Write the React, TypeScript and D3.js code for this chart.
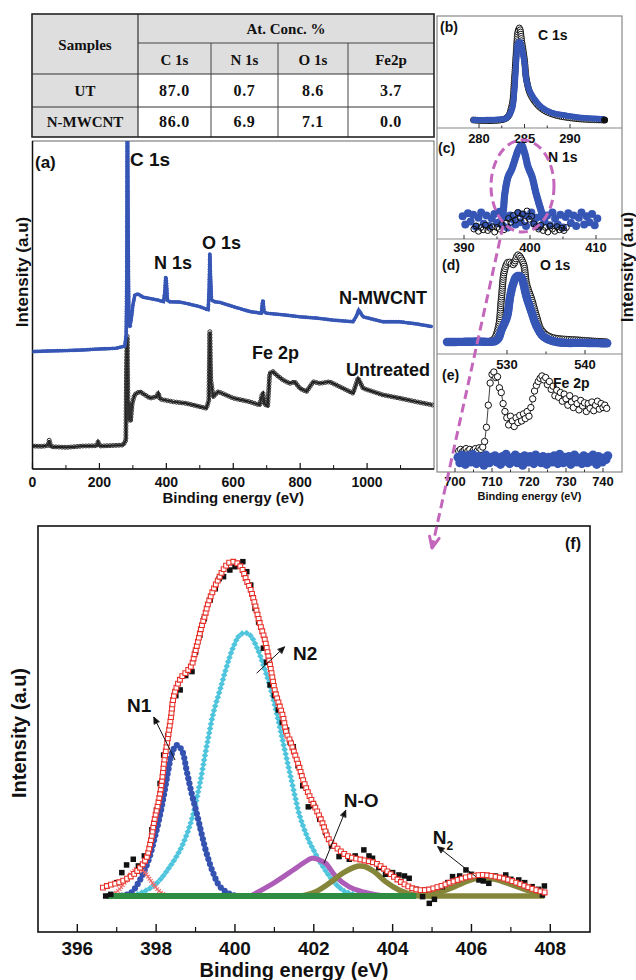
import React, { useEffect, useRef } from "react";
import * as d3 from "d3";

type P = [number, number];

// ---------------- table ----------------
const tableColumns = ["C 1s", "N 1s", "O 1s", "Fe2p"];
const tableSamples = ["UT", "N-MWCNT"];
const tableUT = ["87.0", "0.7", "8.6", "3.7"];
const tableNMWCNT = ["86.0", "6.9", "7.1", "0.0"];

// ---------------- (a) survey ----------------
const surveyTicks = [0, 200, 400, 600, 800, 1000];
const surveyMinorTicks = [100, 300, 500, 700, 900, 1100];
const surveyNMWCNT: P[] = [
  [0, 35.8], [50, 36.0], [100, 36.1], [150, 36.3], [200, 36.6], [250, 36.8], [276, 37.5], [280, 41],
  [282, 60], [283.5, 130], [285, 90], [286, 69.8], [288, 46], [291, 43.3], [296, 46.4], [300, 50],
  [306, 53], [315, 53.4], [330, 52.4], [351, 52], [375, 51.5], [392, 51], [396, 54.6], [398, 58.6],
  [400, 57.6], [403, 51.5], [410, 51], [440, 50.9], [460, 50.5], [500, 49.5], [525, 48.5], [528, 54.6],
  [530, 65.5], [532, 59.1], [535, 51.5], [545, 51], [560, 50.8], [600, 49.5], [650, 48], [684, 47.5],
  [687, 50.6], [689, 51.5], [692, 47.9], [700, 47.5], [750, 47], [800, 46.4], [850, 46], [898, 45.4],
  [958, 44.9], [968, 46.6], [975, 48.5], [988, 46.4], [1047, 44.9], [1097, 44.9], [1150, 44.2], [1196, 43.4],
];
const surveyUntreated: P[] = [
  [0, 7.0], [30, 6.9], [47, 7.2], [50, 8.8], [55, 6.8], [102, 6.6], [150, 7.0], [193, 7.1], [196, 8.3],
  [201, 7.0], [271, 7.3], [279, 8.8], [281, 32.3], [283, 40.5], [285, 23.2], [287, 14.9], [290, 20],
  [293, 14.5], [298, 20], [305, 22.6], [311, 23.1], [321, 23.6], [351, 21.6], [370, 22], [376, 23.2],
  [381, 21.3], [420, 20.5], [460, 20], [500, 19], [520, 18.5], [527, 21], [530, 41.9], [533, 27.1],
  [540, 22], [555, 23.6], [600, 21.6], [649, 20.5], [679, 19.5], [686, 22.6], [689, 23.1], [693, 19.8],
  [703, 19.2], [709, 29.2], [719, 29.7], [729, 28.7], [749, 27.1], [769, 26.1], [784, 26.6], [799, 24.6],
  [819, 23.6], [839, 26.6], [859, 26.1], [888, 26.6], [908, 25.6], [938, 24.1], [958, 23.1], [973, 27.7],
  [988, 24.6], [1047, 22.6], [1097, 21.6], [1147, 20.5], [1196, 19.5],
];

// ---------------- (b) C 1s ----------------
const c1sTicks = [280, 285, 290];
const c1sNMWCNT: P[] = [
  [279.4, 0], [281, 0.002], [282, 0.005], [283, 0.02], [283.6, 0.11], [283.9, 0.33], [284.1, 0.65],
  [284.3, 0.84], [284.5, 0.85], [284.7, 0.78], [285, 0.62], [285.15, 0.47], [285.4, 0.36], [285.7, 0.29],
  [286.3, 0.2], [286.8, 0.145], [287.5, 0.1], [288.2, 0.073], [289.5, 0.05], [290.8, 0.03], [292, 0.02], [293.7, 0.01],
];
const c1sUntreated: P[] = [
  [279.4, 0], [283, 0.02], [283.6, 0.15], [283.9, 0.45], [284.1, 0.75], [284.3, 0.97], [284.45, 1.0],
  [284.7, 0.85], [285, 0.65], [285.2, 0.45], [285.7, 0.27], [286.8, 0.13], [288.2, 0.06], [290.8, 0.015], [293.8, 0.0],
];

// ---------------- (c) N 1s ----------------
const n1sTicks = [390, 400, 410];
const n1sNMWCNTPeak: P[] = [
  [395.6, 0.0], [395.9, 0.09], [396.2, 0.36], [396.7, 0.58], [397.2, 0.67], [397.7, 0.8], [398.2, 0.93],
  [398.7, 1.0], [399.2, 0.89], [399.7, 0.71], [400.3, 0.58], [400.9, 0.36], [401.8, 0.09], [402.1, 0.0],
];
const n1sNMWCNTStart = 389.8;
const n1sNMWCNTStep = 0.4;
const n1sNMWCNTBase = [
  0.05, -0.06, 0.09, -0.02, 0.07, -0.09, 0.03, 0.1, -0.05, 0.06,
  -0.08, 0.02, 0.08, -0.04, 0.11, -0.07, 0.04, -0.1, 0.06, 0.01,
  -0.06, 0.09, -0.03, 0.07, -0.08, 0.05, 0.1, -0.05, 0.03, -0.09,
  0.08, -0.02, 0.06, -0.07, 0.1, 0.02, -0.06, 0.07, -0.1, 0.04,
  0.09, -0.04, 0.06, -0.08, 0.03, 0.1, -0.06, 0.05, -0.03, 0.08,
  -0.07, 0.02,
];
const n1sUntreatedStart = 391.5;
const n1sUntreatedStep = 0.35;
const n1sUntreated = [
  -0.12, -0.08, -0.15, -0.1, -0.13, -0.07, -0.14, -0.11, -0.09, -0.16,
  -0.1, -0.12, -0.06, -0.13, -0.04, 0.02, -0.03, 0.06, 0.0, 0.1,
  0.03, 0.08, -0.02, 0.12, 0.01, 0.05, -0.05, -0.09, -0.12, -0.07,
  -0.14, -0.1, -0.16, -0.08, -0.12, -0.15, -0.09, -0.13, -0.11, -0.14, -0.1,
];

// ---------------- (d) O 1s ----------------
const o1sTicks = [530, 540];
const o1sNMWCNT: P[] = [
  [522.3, 0], [526, 0.005], [528.7, 0.02], [529.3, 0.14], [530.0, 0.29], [530.4, 0.52], [530.8, 0.67],
  [531.2, 0.75], [531.6, 0.76], [531.9, 0.73], [532.5, 0.52], [533.2, 0.33], [533.8, 0.18], [534.7, 0.06],
  [536.4, 0.0], [540, -0.01], [543.0, -0.015],
];
const o1sUntreated: P[] = [
  [527.5, 0], [528.3, 0.03], [528.9, 0.17], [529.3, 0.52], [529.7, 0.83], [530.2, 0.92], [530.8, 0.89],
  [531.4, 1.0], [532.1, 0.9], [532.5, 0.67], [533.2, 0.48], [533.8, 0.29], [534.4, 0.14], [535.5, 0.06],
  [539.4, 0.02], [542.8, 0.0],
];

// ---------------- (e) Fe 2p ----------------
const fe2pTicks = [700, 710, 720, 730, 740];
const fe2pUntreatedStart = 701;
const fe2pUntreatedStep = 0.5;
const fe2pUntreated = [
  0.0, 0.02, -0.01, 0.01, 0.03, 0.0, 0.02, -0.02, 0.01, 0.03,
  0.0, 0.04, 0.02, 0.05, 0.12, 0.3, 0.58, 0.86, 0.97, 1.0,
  0.93, 0.94, 0.8, 0.74, 0.6, 0.5, 0.42, 0.33, 0.44, 0.38,
  0.31, 0.42, 0.36, 0.45, 0.38, 0.47, 0.41, 0.5, 0.44, 0.55,
  0.66, 0.76, 0.83, 0.88, 0.92, 0.95, 0.9, 0.93, 0.84, 0.88,
  0.78, 0.82, 0.7, 0.77, 0.68, 0.74, 0.63, 0.72, 0.66, 0.58,
  0.7, 0.62, 0.55, 0.66, 0.6, 0.52, 0.64, 0.57, 0.61, 0.5,
  0.6, 0.54, 0.62, 0.51, 0.58, 0.63, 0.53, 0.6, 0.55, 0.58, 0.54,
];
const fe2pNMWCNTStart = 700.8;
const fe2pNMWCNTStep = 0.5;
const fe2pNMWCNT = [
  -0.08, -0.15, -0.05, -0.12, -0.17, -0.06, -0.11, -0.14, -0.04, -0.1,
  -0.16, -0.07, -0.13, -0.09, -0.18, -0.05, -0.12, -0.15, -0.08, -0.11,
  -0.06, -0.14, -0.1, -0.17, -0.07, -0.13, -0.04, -0.12, -0.16, -0.09,
  -0.11, -0.05, -0.15, -0.08, -0.13, -0.18, -0.06, -0.1, -0.14, -0.07,
  -0.12, -0.16, -0.05, -0.11, -0.09, -0.15, -0.07, -0.13, -0.17, -0.08,
  -0.1, -0.14, -0.06, -0.12, -0.16, -0.04, -0.11, -0.15, -0.08, -0.13,
  -0.07, -0.17, -0.1, -0.05, -0.14, -0.09, -0.12, -0.16, -0.06, -0.11,
  -0.15, -0.08, -0.13, -0.05, -0.1, -0.17, -0.07, -0.12, -0.14, -0.09,
  -0.11, -0.06,
];

// ---------------- (f) N 1s fit ----------------
const fitTicks = [396, 398, 400, 402, 404, 406, 408];
const fitMinorTicks = [397, 399, 401, 403, 405, 407];
const fitRaw: P[] = [
  [396.72, 0.0], [396.85, 0.005], [397.0, 0.04], [397.13, 0.07], [397.25, 0.093], [397.42, 0.11],
  [397.55, 0.09], [397.7, 0.12], [397.89, 0.198], [398.01, 0.257], [398.1, 0.337], [398.19, 0.422],
  [398.3, 0.48], [398.4, 0.562], [398.5, 0.6], [398.61, 0.617], [398.75, 0.66], [398.91, 0.672],
  [399.0, 0.73], [399.11, 0.781], [399.22, 0.83], [399.37, 0.886], [399.5, 0.92], [399.6, 0.95],
  [399.71, 0.956], [399.87, 0.976], [400.0, 0.986], [400.1, 0.99], [400.2, 1.001], [400.3, 0.971],
  [400.4, 0.931], [400.51, 0.861], [400.6, 0.82], [400.72, 0.742], [400.8, 0.7], [400.89, 0.632],
  [401.0, 0.6], [401.1, 0.557], [401.2, 0.52], [401.31, 0.497], [401.4, 0.46], [401.48, 0.447],
  [401.6, 0.39], [401.72, 0.33], [401.86, 0.267], [402.0, 0.27], [402.15, 0.23], [402.3, 0.19],
  [402.45, 0.15], [402.64, 0.118], [402.77, 0.125], [402.9, 0.11], [403.05, 0.12], [403.27, 0.138],
  [403.4, 0.12], [403.49, 0.113], [403.65, 0.085], [403.82, 0.065], [404.0, 0.07], [404.16, 0.063],
  [404.3, 0.06], [404.42, 0.053], [404.6, 0.02], [404.76, -0.002], [404.93, -0.022], [405.06, -0.01],
  [405.26, 0.028], [405.4, 0.04], [405.52, 0.058], [405.7, 0.06], [405.86, 0.078], [406.0, 0.065],
  [406.19, 0.048], [406.3, 0.045], [406.44, 0.038], [406.6, 0.06], [406.87, 0.063], [407.0, 0.05],
  [407.2, 0.048], [407.35, 0.04], [407.54, 0.028], [407.7, 0.02], [407.8, 0.003], [407.85, 0.03],
];
const fitEnvelope: P[] = [
  [396.65, 0.025], [396.82, 0.033], [396.99, 0.038], [397.2, 0.048], [397.41, 0.063], [397.58, 0.083],
  [397.75, 0.113], [397.87, 0.168], [397.96, 0.228], [398.07, 0.287], [398.14, 0.337], [398.21, 0.407],
  [398.29, 0.467], [398.38, 0.538], [398.43, 0.587], [398.52, 0.626], [398.65, 0.656], [398.77, 0.671],
  [398.9, 0.691], [398.98, 0.726], [399.07, 0.766], [399.15, 0.806], [399.24, 0.841], [399.32, 0.876],
  [399.45, 0.916], [399.57, 0.946], [399.7, 0.976], [399.83, 0.996], [399.93, 1.001], [400.06, 0.996],
  [400.17, 0.981], [400.29, 0.946], [400.4, 0.916], [400.5, 0.876], [400.63, 0.816], [400.76, 0.766],
  [400.85, 0.716], [400.93, 0.666], [401.01, 0.616], [401.14, 0.566], [401.22, 0.536], [401.31, 0.486],
  [401.39, 0.467], [401.48, 0.437], [401.6, 0.397], [401.73, 0.347], [401.9, 0.297], [402.05, 0.262],
  [402.22, 0.218], [402.39, 0.168], [402.64, 0.138], [402.89, 0.118], [403.23, 0.108], [403.57, 0.098],
  [403.82, 0.078], [404.08, 0.053], [404.33, 0.033], [404.58, 0.02], [404.84, 0.018], [405.18, 0.028],
  [405.52, 0.043], [405.94, 0.058], [406.28, 0.063], [406.61, 0.058], [406.95, 0.048], [407.29, 0.033],
  [407.63, 0.018], [407.88, 0.01],
];
const fitShoulder: P[] = [
  [396.8, 0.0], [397.0, 0.012], [397.2, 0.04], [397.4, 0.072], [397.55, 0.083], [397.7, 0.072],
  [397.9, 0.04], [398.1, 0.012], [398.3, 0.0],
];
const fitN1: P[] = [
  [397.0, 0.0], [397.34, 0.008], [397.59, 0.048], [397.81, 0.108], [397.95, 0.168], [398.09, 0.237],
  [398.19, 0.297], [398.31, 0.377], [398.4, 0.427], [398.52, 0.452], [398.65, 0.437], [398.78, 0.372],
  [398.9, 0.307], [399.03, 0.248], [399.15, 0.188], [399.28, 0.128], [399.45, 0.068], [399.62, 0.028],
  [399.87, 0.006], [400.1, 0.0],
];
const fitN2: P[] = [
  [397.3, 0.0], [397.59, 0.008], [398.01, 0.038], [398.35, 0.088], [398.65, 0.148], [398.9, 0.228],
  [399.11, 0.337], [399.28, 0.447], [399.45, 0.547], [399.62, 0.617], [399.79, 0.687], [399.96, 0.746],
  [400.12, 0.781], [400.25, 0.788], [400.38, 0.781], [400.55, 0.746], [400.72, 0.692], [400.89, 0.627],
  [401.06, 0.547], [401.22, 0.46], [401.38, 0.375], [401.52, 0.3], [401.65, 0.237], [401.86, 0.17],
  [402.05, 0.125], [402.22, 0.09], [402.47, 0.048], [402.73, 0.018], [402.98, 0.006], [403.3, 0.0],
];
const fitNO: P[] = [
  [400.4, 0.0], [400.97, 0.038], [401.48, 0.078], [401.75, 0.1], [401.95, 0.113], [402.1, 0.11],
  [402.3, 0.098], [402.56, 0.058], [402.89, 0.028], [403.23, 0.013], [403.57, 0.004], [403.9, 0.0],
];
const fitN2Gas: P[] = [
  [401.7, 0.0], [402.05, 0.013], [402.39, 0.038], [402.73, 0.068], [403.0, 0.085], [403.15, 0.09],
  [403.3, 0.088], [403.53, 0.073], [403.82, 0.043], [404.16, 0.018], [404.5, 0.004], [404.8, 0.0],
  [405.4, 0.0], [406.0, 0.0], [407.0, 0.0], [407.85, 0.0],
];
const fitHighPeak: P[] = [
  [404.6, 0.0], [405.0, 0.006], [405.4, 0.02], [405.8, 0.04], [406.1, 0.052], [406.3, 0.055],
  [406.6, 0.05], [407.0, 0.035], [407.4, 0.018], [407.85, 0.006],
];
const fitBaseline: P[] = [[396.75, 0.0], [404.6, 0.0]];

// ---------------- drawing ----------------
const SANS = "'Liberation Sans', Arial, Helvetica, sans-serif";
const SERIF = "'Liberation Serif', 'Times New Roman', serif";
const BLUE = "#3656b6";
const MAGENTA = "#c466bc";

function draw(node: SVGSVGElement) {
  const svg: any = d3.select(node);
  svg.selectAll("*").remove();
  svg.append("rect").attr("width", 636).attr("height", 980).attr("fill", "#fff");
  const defs = svg.append("defs");
  const addClip = (id: string, x0: number, y0: number, x1: number, y1: number) =>
    defs.append("clipPath").attr("id", id).append("rect")
      .attr("x", x0).attr("y", y0).attr("width", x1 - x0).attr("height", y1 - y0);

  const text = (g: any, x: number, y: number, s: string, size: number, anchor = "start", family = SANS, weight = "bold") =>
    g.append("text").attr("x", x).attr("y", y).attr("font-family", family).attr("font-size", size)
      .attr("font-weight", weight).attr("text-anchor", anchor).attr("fill", "#111").text(s);

  const line = (g: any, x1: number, y1: number, x2: number, y2: number, stroke: string, sw: number) =>
    g.append("line").attr("x1", x1).attr("y1", y1).attr("x2", x2).attr("y2", y2)
      .attr("stroke", stroke).attr("stroke-width", sw);

  const along = (g: any, d: string, step: number): P[] => {
    const p = g.append("path").attr("d", d).attr("fill", "none").attr("stroke", "none");
    const n = p.node() as SVGPathElement;
    const L = n.getTotalLength();
    const out: P[] = [];
    for (let s = 0; s <= L + 0.01; s += step) {
      const q = n.getPointAtLength(Math.min(s, L));
      out.push([q.x, q.y]);
    }
    p.remove();
    return out;
  };

  const marks = (g: any, pts: P[], d: string, fill: string, stroke: string, sw: number, rot = 0) =>
    g.append("g").selectAll("path").data(pts).join("path").attr("d", d)
      .attr("transform", (p: P) => `translate(${p[0]},${p[1]})${rot ? ` rotate(${rot})` : ""}`)
      .attr("fill", fill).attr("stroke", stroke).attr("stroke-width", sw);

  const circle = (r: number) => d3.symbol().type(d3.symbolCircle).size(Math.PI * r * r)() as string;
  const square = (s: number) => d3.symbol().type(d3.symbolSquare).size(s * s)() as string;
  const cross = (s: number) => `M${-s},${-s}L${s},${s}M${-s},${s}L${s},${-s}`;

  const arrow = (g: any, x1: number, y1: number, x2: number, y2: number, color: string, sw: number, head: number, filled: boolean, dash?: string) => {
    const l = line(g, x1, y1, x2, y2, color, sw);
    if (dash) l.attr("stroke-dasharray", dash);
    const a = Math.atan2(y2 - y1, x2 - x1);
    const h1: P = [x2 - head * Math.cos(a - 0.42), y2 - head * Math.sin(a - 0.42)];
    const h2: P = [x2 - head * Math.cos(a + 0.42), y2 - head * Math.sin(a + 0.42)];
    const dd = filled ? `M${h1}L${x2},${y2}L${h2}Z` : `M${h1}L${x2},${y2}L${h2}`;
    g.append("path").attr("d", dd).attr("fill", filled ? color : "none").attr("stroke", color)
      .attr("stroke-width", filled ? 0.8 : sw).attr("stroke-linecap", "round").attr("stroke-linejoin", "round");
  };

  // ================= TABLE =================
  const tg = svg.append("g");
  const colX = [32, 138, 211, 278, 348, 434];
  const rowY = [14, 43, 74, 107, 137];
  const GRAY = "#dedede";
  tg.append("rect").attr("x", colX[0]).attr("y", rowY[0]).attr("width", colX[5] - colX[0]).attr("height", rowY[4] - rowY[0]).attr("fill", "#fff");
  tg.append("rect").attr("x", colX[0]).attr("y", rowY[0]).attr("width", colX[1] - colX[0]).attr("height", rowY[4] - rowY[0]).attr("fill", GRAY);
  tg.append("rect").attr("x", colX[1]).attr("y", rowY[0]).attr("width", colX[5] - colX[1]).attr("height", rowY[2] - rowY[0]).attr("fill", GRAY);
  line(tg, colX[1], rowY[1], colX[5], rowY[1], "#444", 1);
  line(tg, colX[0], rowY[2], colX[5], rowY[2], "#333", 1.2);
  line(tg, colX[0], rowY[3], colX[5], rowY[3], "#333", 1.2);
  line(tg, colX[1], rowY[0], colX[1], rowY[4], "#333", 1.2);
  [2, 3, 4].forEach((i) => line(tg, colX[i], rowY[1], colX[i], rowY[4], "#444", 1));
  tg.append("rect").attr("x", colX[0]).attr("y", rowY[0]).attr("width", colX[5] - colX[0]).attr("height", rowY[4] - rowY[0])
    .attr("fill", "none").attr("stroke", "#222").attr("stroke-width", 1.6);
  text(tg, (colX[0] + colX[1]) / 2, 50, "Samples", 15, "middle", SERIF);
  text(tg, (colX[1] + colX[5]) / 2, 34, "At. Conc. %", 15, "middle", SERIF);
  tableColumns.forEach((c, i) => text(tg, (colX[i + 1] + colX[i + 2]) / 2, 65, c, 15, "middle", SERIF));
  const rowsY = [96, 127];
  tableSamples.forEach((s, r) => text(tg, (colX[0] + colX[1]) / 2, rowsY[r], s, 15, "middle", SERIF));
  [tableUT, tableNMWCNT].forEach((vals, r) =>
    vals.forEach((v, i) => text(tg, (colX[i + 1] + colX[i + 2]) / 2, rowsY[r], v, 16, "middle", SERIF).attr("letter-spacing", 0.7)));

  // ================= (a) SURVEY =================
  const xA = d3.scaleLinear().domain([0, 1200]).range([32.5, 434]);
  const yA = d3.scaleLinear().domain([0, 100]).range([469, 141]);
  addClip("clipA", 32.5, 141, 434, 469);
  const gA = svg.append("g");
  gA.append("rect").attr("x", 32.5).attr("y", 141).attr("width", 401.5).attr("height", 328)
    .attr("fill", "none").attr("stroke", "#666").attr("stroke-width", 1);
  line(gA, 32.5, 141, 32.5, 469, "#111", 1.5);
  line(gA, 32.5, 469, 434, 469, "#111", 1.5);
  surveyTicks.forEach((t) => {
    line(gA, xA(t), 469, xA(t), 463, "#111", 1.2);
    text(gA, xA(t), 487, String(t), 14, "middle");
  });
  surveyMinorTicks.forEach((t) => line(gA, xA(t), 469, xA(t), 465, "#111", 1));
  text(gA, xA(600), 503, "Binding energy (eV)", 15, "middle");
  text(gA, 0, 0, "Intensity (a.u)", 17, "middle").attr("transform", "translate(28,272) rotate(-90)");

  const lineA = d3.line<P>().x((d) => xA(d[0])).y((d) => yA(d[1]));
  const cA = gA.append("g").attr("clip-path", "url(#clipA)");
  const dU = lineA(surveyUntreated) as string;
  cA.append("path").attr("d", dU).attr("fill", "none").attr("stroke", "#111").attr("stroke-width", 2.2);
  marks(cA, along(cA, dU, 3), circle(2), "none", "#333", 1);
  const dM = lineA(surveyNMWCNT) as string;
  cA.append("path").attr("d", dM).attr("fill", "none").attr("stroke", BLUE).attr("stroke-width", 3);
  marks(cA, along(cA, dM, 2.5), circle(1.9), BLUE, "none", 0);

  text(gA, 35, 168, "(a)", 17);
  text(gA, 130, 166, "C 1s", 19);
  text(gA, 154, 269, "N 1s", 18);
  text(gA, 202, 249, "O 1s", 18);
  text(gA, 427, 304, "N-MWCNT", 18, "end");
  text(gA, 252, 359, "Fe 2p", 18);
  text(gA, 430, 376, "Untreated", 18, "end");

  // ================= (b)-(e) =================
  const PX0 = 437, PX1 = 622;
  const bounds = [16, 128, 239, 354, 472];
  const gR = svg.append("g");
  const catmull = d3.curveCatmullRom.alpha(0.5);

  const smallTicks = (g: any, x: any, ticks: number[], yb: number, ylab: number) => {
    ticks.forEach((t) => {
      line(g, x(t), yb, x(t), yb - 4, "#333", 1);
      text(g, x(t), ylab, String(t), 13, "middle");
    });
    for (let i = 0; i < ticks.length - 1; i++) {
      const m = (ticks[i] + ticks[i + 1]) / 2;
      line(g, x(m), yb, x(m), yb - 2.5, "#333", 1);
    }
  };

  // (b)
  const xB = d3.scaleLinear().domain([280, 290]).range([479, 570]);
  const yB = d3.scaleLinear().domain([0, 1]).range([120, 28]);
  addClip("clipB", PX0, bounds[0], PX1, bounds[1]);
  const gB = gR.append("g").attr("clip-path", "url(#clipB)");
  const lineB = d3.line<P>().x((d) => xB(d[0])).y((d) => yB(d[1])).curve(catmull);
  marks(gB, along(gB, lineB(c1sUntreated) as string, 2.2), circle(3), "#fff", "#111", 1);
  marks(gB, along(gB, lineB(c1sNMWCNT) as string, 1.8), circle(3), BLUE, "none", 0);
  marks(gB, [[xB(293.8), yB(0)]], circle(3.5), "#111", "none", 0);

  // (c)
  const xC = d3.scaleLinear().domain([390, 410]).range([464, 596]);
  const yC = d3.scaleLinear().domain([0, 1]).range([220, 145]);
  addClip("clipC", PX0, bounds[1], PX1, bounds[2]);
  const gC = gR.append("g").attr("clip-path", "url(#clipC)");
  const lineC = d3.line<P>().x((d) => xC(d[0])).y((d) => yC(d[1])).curve(catmull);
  marks(gC, n1sNMWCNTBase.map((v, i) => [xC(n1sNMWCNTStart + i * n1sNMWCNTStep), yC(v)] as P), circle(4), BLUE, "none", 0);
  marks(gC, along(gC, lineC(n1sNMWCNTPeak) as string, 2.2), circle(3.6), BLUE, "none", 0);
  marks(gC, n1sUntreated.map((v, i) => [xC(n1sUntreatedStart + i * n1sUntreatedStep), yC(v)] as P), circle(3), "none", "#111", 1);

  // (d)
  const xD = d3.scaleLinear().domain([530, 540]).range([507, 585]);
  const yD = d3.scaleLinear().domain([0, 1]).range([342, 255]);
  addClip("clipD", PX0, bounds[2], PX1, bounds[3]);
  const gD = gR.append("g").attr("clip-path", "url(#clipD)");
  const lineD = d3.line<P>().x((d) => xD(d[0])).y((d) => yD(d[1])).curve(catmull);
  marks(gD, along(gD, lineD(o1sUntreated) as string, 2.2), circle(3.2), "#fff", "#111", 1);
  marks(gD, along(gD, lineD(o1sNMWCNT) as string, 1.8), circle(4.2), BLUE, "none", 0);

  // (e)
  const xE = d3.scaleLinear().domain([700, 740]).range([455, 603]);
  const yE = d3.scaleLinear().domain([0, 1]).range([451, 372]);
  addClip("clipE", PX0, bounds[3], PX1, bounds[4]);
  const gE = gR.append("g").attr("clip-path", "url(#clipE)");
  const ePts = fe2pUntreated.map((v, i) => [xE(fe2pUntreatedStart + i * fe2pUntreatedStep), yE(v)] as P);
  gE.append("path").attr("d", d3.line()(ePts)).attr("fill", "none").attr("stroke", "#111").attr("stroke-width", 0.8);
  marks(gE, ePts, circle(3.2), "#fff", "#111", 1);
  marks(gE, fe2pNMWCNT.map((v, i) => [xE(fe2pNMWCNTStart + i * fe2pNMWCNTStep), yE(v)] as P), circle(4.5), BLUE, "none", 0);

  gR.append("rect").attr("x", PX0).attr("y", bounds[0]).attr("width", PX1 - PX0).attr("height", bounds[4] - bounds[0])
    .attr("fill", "none").attr("stroke", "#888").attr("stroke-width", 1.2);
  [1, 2, 3].forEach((i) => line(gR, PX0, bounds[i], PX1, bounds[i], "#888", 1.2));
  smallTicks(gR, xB, c1sTicks, bounds[1], 143);
  smallTicks(gR, xC, n1sTicks, bounds[2], 252);
  smallTicks(gR, xD, o1sTicks, bounds[3], 369);
  smallTicks(gR, xE, fe2pTicks, bounds[4], 486);
  text(gR, 529.5, 500, "Binding energy (eV)", 11, "middle");
  text(gR, 0, 0, "Intensity (a.u)", 17, "middle").attr("transform", "translate(633,267) rotate(-90)");
  text(gR, 440, 32, "(b)", 14);
  text(gR, 538, 40, "C 1s", 14);
  text(gR, 438, 153, "(c)", 14);
  text(gR, 548, 162, "N 1s", 14);
  text(gR, 442, 270, "(d)", 14);
  text(gR, 540, 270, "O 1s", 14);
  text(gR, 442, 380, "(e)", 14);
  text(gR, 553, 388, "Fe 2p", 14);

  // ================= (f) FIT =================
  const xF = d3.scaleLinear().domain([396, 408]).range([77.3, 550.3]);
  const yF = d3.scaleLinear().domain([0, 1]).range([896, 562]);
  addClip("clipF", 38, 526, 590, 932);
  const gF = svg.append("g");
  const lineF = d3.line<P>().x((d) => xF(d[0])).y((d) => yF(d[1])).curve(catmull);
  const cF = gF.append("g").attr("clip-path", "url(#clipF)");

  const dN2 = lineF(fitN2) as string;
  marks(cF, along(cF, dN2, 4.6), square(4.6), "#4fc5dd", "none", 0, 45);
  const dN1 = lineF(fitN1) as string;
  marks(cF, along(cF, dN1, 5.2), circle(3.1), "#3452b0", "none", 0);
  cF.append("path").attr("d", lineF(fitNO)).attr("fill", "none").attr("stroke", "#ad5cb8").attr("stroke-width", 5);
  cF.append("path").attr("d", lineF(fitN2Gas)).attr("fill", "none").attr("stroke", "#86863a").attr("stroke-width", 5.5);
  cF.append("path").attr("d", lineF(fitHighPeak)).attr("fill", "none").attr("stroke", "#86863a").attr("stroke-width", 5.5);
  marks(cF, along(cF, lineF(fitShoulder) as string, 2.6), cross(1.8), "none", "#f06a6a", 1.1);
  cF.append("path").attr("d", lineF(fitBaseline)).attr("fill", "none").attr("stroke", "#2f8d42").attr("stroke-width", 6);
  marks(cF, fitRaw.map((d) => [xF(d[0]), yF(d[1])] as P), square(5.5), "#111", "none", 0);
  const dEnv = lineF(fitEnvelope) as string;
  cF.append("path").attr("d", dEnv).attr("fill", "none").attr("stroke", "#e8302a").attr("stroke-width", 1);
  marks(cF, along(cF, dEnv, 4.3), square(4.8), "#fff", "#e8302a", 1.1);

  gF.append("rect").attr("x", 38).attr("y", 526).attr("width", 552).attr("height", 406)
    .attr("fill", "none").attr("stroke", "#111").attr("stroke-width", 1.6);
  fitTicks.forEach((t) => {
    line(gF, xF(t), 932, xF(t), 924, "#111", 1.4);
    text(gF, xF(t), 955, String(t), 19, "middle");
  });
  fitMinorTicks.forEach((t) => line(gF, xF(t), 932, xF(t), 927, "#111", 1.2));
  text(gF, 294, 977, "Binding energy (eV)", 20, "middle");
  text(gF, 0, 0, "Intensity (a.u)", 20, "middle").attr("transform", "translate(26,733) rotate(-90)");
  text(gF, 565, 549, "(f)", 16);

  arrow(gF, xF(398.48), yF(0.407), xF(397.94), yF(0.536), "#111", 1, 7, true);
  text(gF, xF(397.26), yF(0.551), "N1", 19);
  arrow(gF, xF(400.55), yF(0.667), xF(401.26), yF(0.746), "#111", 1, 7, true);
  text(gF, xF(401.47), yF(0.707), "N2", 19);
  arrow(gF, xF(402.26), yF(0.098), xF(402.81), yF(0.257), "#111", 1, 7, true);
  text(gF, xF(402.76), yF(0.266), "N-O", 19);
  arrow(gF, xF(406.11), yF(0.058), xF(405.14), yF(0.148), "#111", 1, 7, true);
  const n2t = text(gF, xF(405.02), yF(0.156), "N", 19);
  n2t.append("tspan").attr("font-size", 12).attr("dy", 6).text("2");

  // ================= magenta highlight =================
  const gM = svg.append("g");
  gM.append("ellipse").attr("cx", 522.5).attr("cy", 186).attr("rx", 31.5).attr("ry", 46)
    .attr("fill", "none").attr("stroke", MAGENTA).attr("stroke-width", 3).attr("stroke-dasharray", "9,5");
  arrow(gM, 503, 226, 432, 548, MAGENTA, 3, 12, false, "9,5");
}

export default function App() {
  const ref = useRef<SVGSVGElement>(null);
  useEffect(() => {
    if (ref.current) draw(ref.current);
  }, []);
  return (
    <svg ref={ref} width={636} height={980} style={{ position: "absolute", left: 0, top: 0, display: "block" }} />
  );
}
